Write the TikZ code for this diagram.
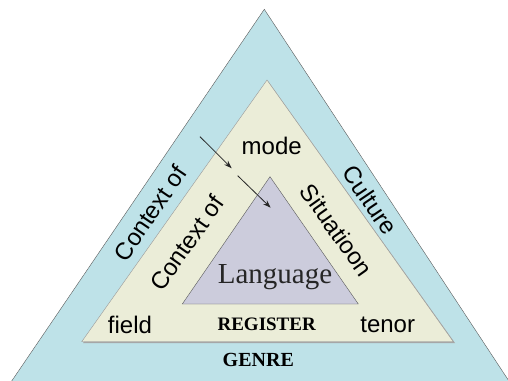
\documentclass[tikz,border=0pt]{standalone}
\usepackage{fontspec}
\setmainfont{Liberation Serif}
\setsansfont{Liberation Sans}
\usepackage{xcolor}
\usepackage{tikz}
\usetikzlibrary{arrows.meta}

\definecolor{culturebg}{RGB}{190,226,232}
\definecolor{situationbg}{RGB}{235,237,216}
\definecolor{languagebg}{RGB}{204,204,220}
\definecolor{edgegray}{RGB}{90,90,90}

\begin{document}
\begin{tikzpicture}[x=1pt, y=-1pt,
        word/.style={font=\sffamily\fontsize{24}{24}\selectfont, inner sep=0pt},
        caps/.style={font=\bfseries\fontsize{19}{19}\selectfont, inner sep=0pt},
        pointer/.style={-{Stealth[length=8pt, width=5.5pt]}, line width=0.8pt, black!85}]
        \useasboundingbox (0,0) rectangle (508,380);
        \clip (0,0) rectangle (508,380);

        % Context of culture
        \draw[fill=culturebg, draw=edgegray] (264.3,9.3) -- (-8,410) -- (528,410) -- cycle;

        % Context of situation, with its shadow
        \fill[gray!70] (83,343) -- (268,81) -- (455,343) -- cycle;
        \draw[fill=situationbg, draw=gray!80] (81.7,341.7) -- (267,80) -- (453.3,341.7) -- cycle;

        % Language
        \draw[fill=languagebg, draw=edgegray, thin] (182.3,304) -- (270,176.7) -- (358.3,304) -- cycle;

        % Labels of the outer band
        \node[word, rotate=55.8] (cultureL) at (150,213) {Context of};
        \node[word, rotate=-55.8] (cultureR) at (370,200) {Culture};
        \node[caps, font=\bfseries\fontsize{20}{20}\selectfont] (genre) at (258.3,360) {GENRE};

        % Labels of the middle band
        \node[word] (mode) at (271.7,146) {mode};
        \node[word] (field) at (130,325) {field};
        \node[word] (tenor) at (387.7,325) {tenor};
        \node[word, rotate=54.7] (situationL) at (186.7,243) {Context of};
        \node[word, rotate=-54.7] (situationR) at (336.7,230) {Situatioon};
        \node[caps] (register) at (266.7,324) {REGISTER};

        % Centre
        \node[font=\fontsize{29}{29}\selectfont, text=black!85, inner sep=0pt] (language) at (275,276.7) {Language};

        % Arrows
        \coordinate (a1) at (200,136.7);
        \coordinate (b1) at (231.7,168.3);
        \coordinate (a2) at (237.7,175.7);
        \coordinate (b2) at (270.7,207.7);
        \draw[pointer] (a1) -- (b1);
        \draw[pointer] (a2) -- (b2);
    \end{tikzpicture}
\end{document}
